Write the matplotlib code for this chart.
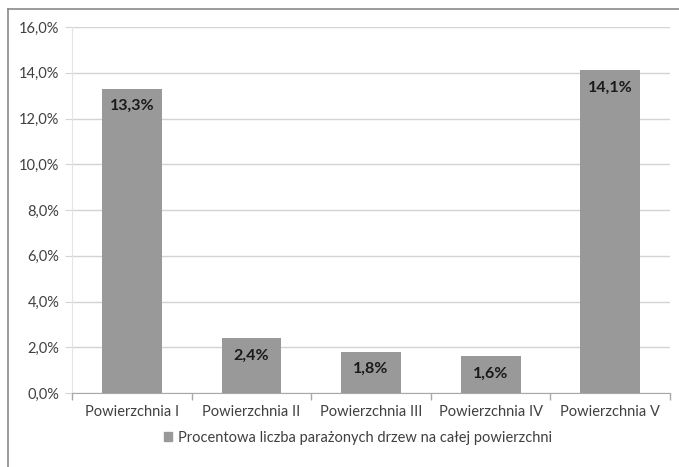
import matplotlib
matplotlib.use("Agg")
import matplotlib.pyplot as plt
from matplotlib.lines import Line2D
from matplotlib.ticker import FuncFormatter, MultipleLocator
from matplotlib.patches import Patch

plt.rcParams['font.family'] = ['Lato', 'DejaVu Sans']

categories = ["Powierzchnia I", "Powierzchnia II", "Powierzchnia III",
              "Powierzchnia IV", "Powierzchnia V"]
values = [13.3, 2.4, 1.8, 1.6, 14.1]
series_name = "Procentowa liczba parażonych drzew na całej powierzchni"

bar_color = "#999999"
text_color = "#404040"

fig = plt.figure(figsize=(6.79, 4.67), dpi=100)
ax = fig.add_axes([72/679, 1 - 393/467, (670 - 72)/679, (393 - 27)/467])

x = list(range(len(categories)))
bars = ax.bar(x, values, width=0.5, color=bar_color, zorder=3)

ax.set_xlim(-0.5, len(categories) - 0.5)
ax.set_ylim(0, 16)
ax.yaxis.set_major_locator(MultipleLocator(2))
ax.yaxis.set_major_formatter(FuncFormatter(lambda v, p: f"{v:.1f}%".replace(".", ",")))
ax.grid(axis="y", color="#d4d4d4", linewidth=1, zorder=0)

ax.set_xticks(x)
ax.set_xticklabels(categories)
ax.set_xticks([i + 0.5 for i in range(-1, len(categories))], minor=True)
ax.tick_params(axis="x", which="major", length=0, pad=9, labelsize=10.5, labelcolor=text_color)
ax.tick_params(axis="x", which="minor", length=5, color="#a8a8a8", width=1)
ax.tick_params(axis="y", length=5, color="#d4d4d4", labelsize=10.5, labelcolor=text_color, pad=4)

for side in ("top", "right"):
    ax.spines[side].set_visible(False)
ax.spines["left"].set_color("#e4e4e4")
ax.spines["bottom"].set_color("#a8a8a8")

for b, v in zip(bars, values):
    ax.text(b.get_x() + b.get_width() / 2, v - 0.45, f"{v:.1f}%".replace(".", ","),
            ha="center", va="top", fontsize=11.5, fontweight="bold", color="#1a1a1a", zorder=4)

fig.legend(handles=[Patch(color=bar_color)], labels=[series_name],
           loc="center", bbox_to_anchor=(358/679, 1 - 438/467), frameon=False,
           fontsize=10.5, handlelength=0.6, handleheight=0.6, handletextpad=0.4,
           labelcolor=text_color)

# outer chart frame (top and left edges)
fig.add_artist(Line2D([8/679, 1], [1 - 9/467, 1 - 9/467], transform=fig.transFigure,
                      color="#8a8a8a", linewidth=1.2))
fig.add_artist(Line2D([8/679, 8/679], [0, 1 - 9/467], transform=fig.transFigure,
                      color="#8a8a8a", linewidth=1.2))

fig.savefig("out.png", dpi=100)
